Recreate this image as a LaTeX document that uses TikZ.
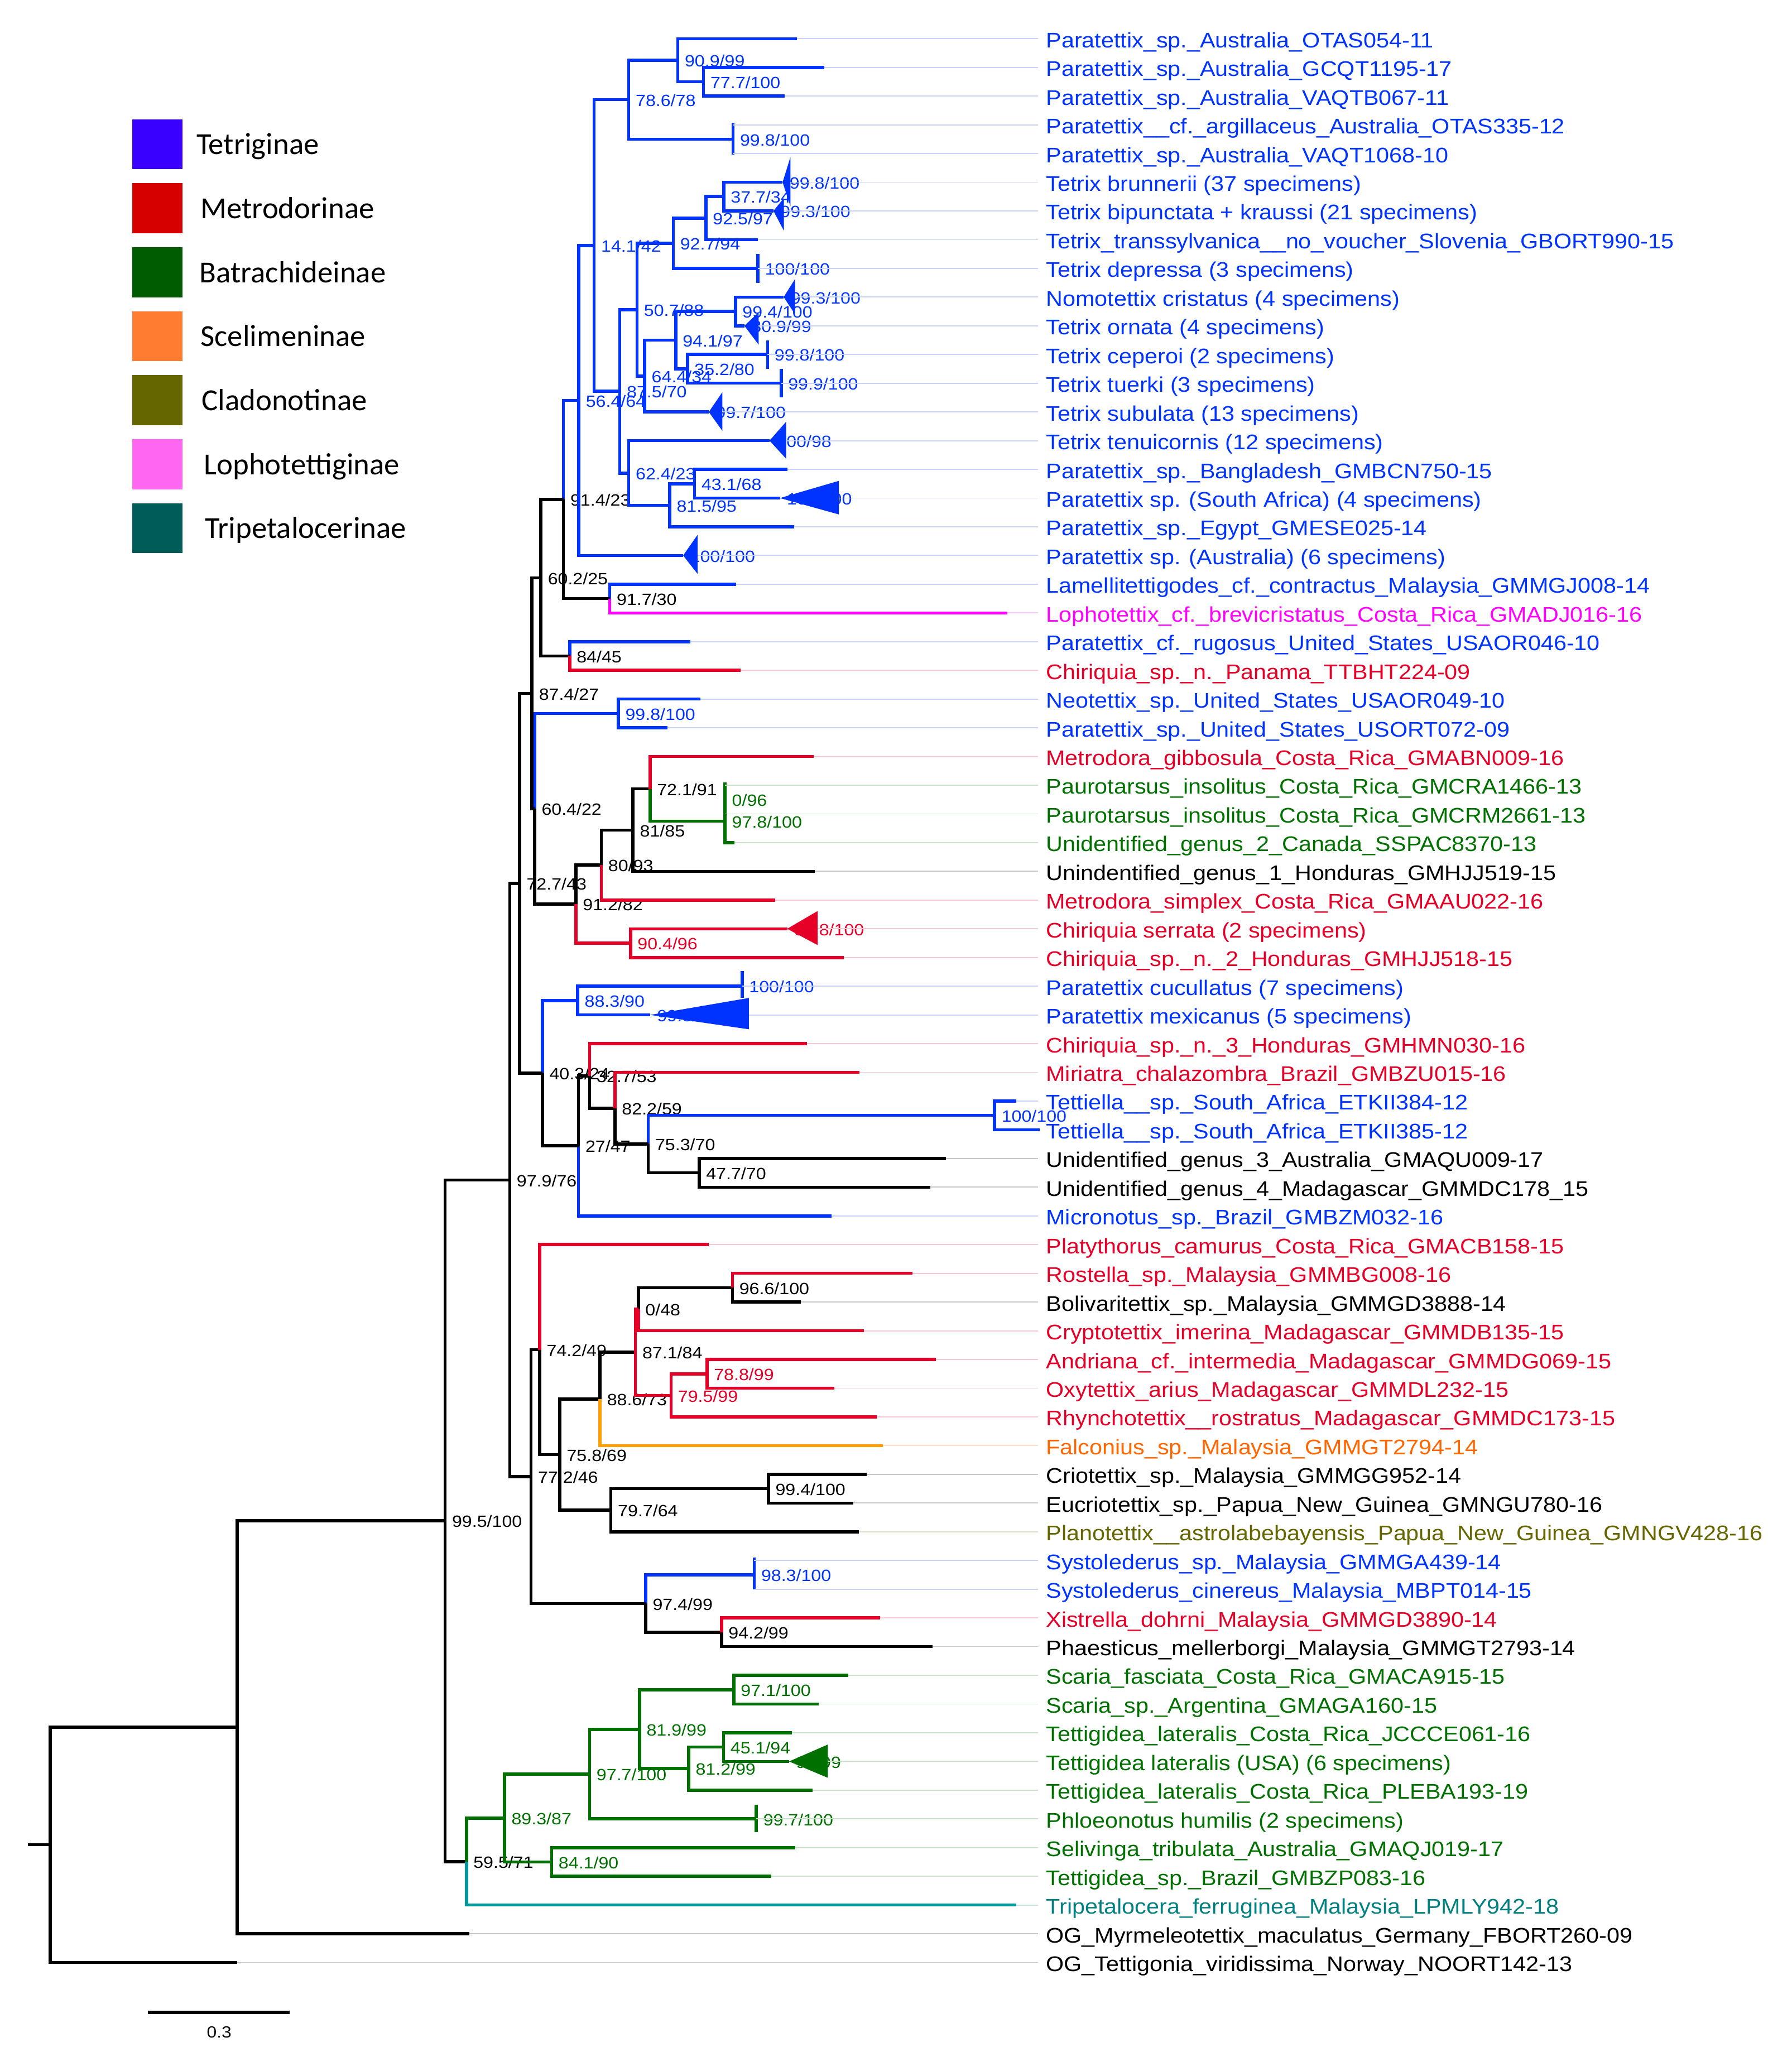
\documentclass[tikz,border=0pt]{standalone}
\usepackage{fontspec}
\setmainfont{Liberation Sans}
\newfontfamily\legendfont{Carlito}
\newfontfamily\tipfont[FakeStretch=1.09]{Liberation Sans}
\newfontfamily\supfont[FakeStretch=1.1]{Liberation Sans}
\definecolor{cblue}{RGB}{0,51,255}
\definecolor{cred}{RGB}{230,0,40}
\definecolor{cgreen}{RGB}{0,112,0}
\definecolor{cblack}{RGB}{0,0,0}
\definecolor{cmag}{RGB}{255,0,255}
\definecolor{corange}{RGB}{255,160,0}
\definecolor{clabor}{RGB}{255,102,0}
\definecolor{colive}{RGB}{102,102,0}
\definecolor{cteal}{RGB}{0,153,153}
\definecolor{clabteal}{RGB}{0,128,128}
\definecolor{leg1}{RGB}{58,0,255}
\definecolor{leg2}{RGB}{215,0,0}
\definecolor{leg3}{RGB}{0,92,0}
\definecolor{leg4}{RGB}{255,124,48}
\definecolor{leg5}{RGB}{102,102,0}
\definecolor{leg6}{RGB}{255,102,242}
\definecolor{leg7}{RGB}{0,92,88}
\begin{document}
\begin{tikzpicture}[x=0.2mm,y=-4.388mm]
  % some styles
  \tikzset{
    branch/.style={line width=1.35pt},
    guide/.style={line width=0.45pt},
    tiplabel/.style={anchor=base west,inner sep=0pt,font=\tipfont\fontsize{9.2}{11}\selectfont},
    support/.style={anchor=base west,inner sep=0pt,xshift=1mm,yshift=-1mm,
      font=\supfont\fontsize{7.1}{9}\selectfont},
    keybox/.style={minimum width=7.7mm,minimum height=7.66mm,inner sep=0pt},
    keyname/.style={anchor=base west,inner sep=0pt,font=\legendfont\fontsize{13.3}{15}\selectfont}
  }

  % frame, legend and scale bar (pixel rows)
  \begin{scope}[y=-0.2mm,yshift=1.522mm]
    \useasboundingbox (0,0) rectangle (1369,1568);
    \foreach \k/\col/\tx/\nm in {0/leg1/149.8/Tetriginae,1/leg2/153/Metrodorinae,
        2/leg3/152.2/Batrachideinae,3/leg4/153/Scelimeninae,4/leg5/153.8/Cladonotinae,
        5/leg6/155.5/Lophotettiginae,6/leg7/156.3/Tripetalocerinae} {
      \node[keybox,fill=\col] (key\k) at (120.35,110.25+48.9*\k) {};
      \node[keyname] (name\k) at (\tx,118.1+48.9*\k) {\nm};
    }
    \coordinate (sb0) at (113.1,1537.6);
    \coordinate (sb1) at (221.5,1537.6);
    \draw[branch] (sb0) -- (sb1);
    \node[anchor=base,inner sep=0pt,font=\supfont\fontsize{7}{9}\selectfont] (sblab) at (167.5,1557) {0.3};
  \end{scope}

  % tips
  \foreach \i/\x in {1/609,2/630,3/599.6,4/560.1,5/560.1,6/598,7/591,8/579.2,9/579.2,
      10/598.8,11/568.8,12/586.5,13/596.9,14/541.6,15/588,16/601.5,17/596,18/607,19/522,
      20/562.4,21/769.5,22/527.3,23/565.8,24/535.3,25/510,26/621.8,27/554,28/554,29/561.1,
      30/622.4,31/592.5,32/601.5,33/644.9,34/567.1,35/496.8,36/616.5,37/656.9,38/776.5,
      39/794.5,40/722.7,41/710.7,42/635.3,43/541.7,44/697.3,45/612,46/659.9,47/715.2,
      48/637.4,49/670.1,50/674.8,51/662.3,52/652,53/656.1,54/576.3,55/576.3,56/672.6,
      57/712.4,58/648.2,59/625.7,60/605.1,61/602.9,62/620.7,63/577.9,64/607.6,65/589.4,
      66/776.5,67/358.7,68/181.2}
    \coordinate (t\i) at (\x,\i);

  % internal nodes
  \coordinate (n01) at (537.5,2.5);
  \coordinate (n02) at (517.9,1.75);
  \coordinate (n03) at (560.1,4.5);
  \coordinate (n04) at (480.4,3.125);
  \coordinate (n05) at (553,6.5);
  \coordinate (n06) at (539.4,7.25);
  \coordinate (n07) at (514.4,8.125);
  \coordinate (n08) at (562,10.5);
  \coordinate (n09) at (525.3,12.5);
  \coordinate (n10) at (516.3,11.5);
  \coordinate (n11) at (492.6,12.75);
  \coordinate (n12) at (486.7,10.44);
  \coordinate (n13) at (530.7,16.5);
  \coordinate (n14) at (511.7,17.25);
  \coordinate (n15) at (480.4,16.13);
  \coordinate (n16) at (473.6,13.28);
  \coordinate (n17) at (454,8.2);
  \coordinate (n18) at (442.3,13.6);
  \coordinate (n19) at (465.9,20.5);
  \coordinate (n20) at (430.5,17.05);
  \coordinate (n21) at (435.3,22.5);
  \coordinate (n22) at (413.3,19.78);
  \coordinate (n23) at (472.5,24.5);
  \coordinate (n24) at (554,27.5);
  \coordinate (n25) at (554,28.25);
  \coordinate (n26) at (496.7,27.13);
  \coordinate (n27) at (483.6,28.56);
  \coordinate (n28) at (459.4,29.78);
  \coordinate (n29) at (481.8,32.5);
  \coordinate (n30) at (440,31.14);
  \coordinate (n31) at (408.5,27.82);
  \coordinate (n32) at (406.5,23.8);
  \coordinate (n33) at (441.4,34.5);
  \coordinate (n34) at (760,38.5);
  \coordinate (n35) at (534.2,40.5);
  \coordinate (n36) at (495.3,39.5);
  \coordinate (n37) at (469.9,38.25);
  \coordinate (n38) at (450.6,37.13);
  \coordinate (n39) at (442,39.56);
  \coordinate (n40) at (414.5,37.03);
  \coordinate (n41) at (397,30.42);
  \coordinate (n42) at (559.6,44.5);
  \coordinate (n43) at (487.8,45.25);
  \coordinate (n44) at (540.2,47.5);
  \coordinate (n45) at (512.7,48.25);
  \coordinate (n46) at (485.5,46.75);
  \coordinate (n47) at (458.5,48.38);
  \coordinate (n48) at (587.2,51.5);
  \coordinate (n49) at (466.8,52.25);
  \coordinate (n50) at (427.7,50.31);
  \coordinate (n51) at (412.4,46.66);
  \coordinate (n52) at (576.3,54.5);
  \coordinate (n53) at (551.3,56.5);
  \coordinate (n54) at (493.4,55.5);
  \coordinate (n55) at (405.8,51.08);
  \coordinate (n56) at (389.5,40.75);
  \coordinate (n57) at (560.7,58.5);
  \coordinate (n58) at (552.8,60.5);
  \coordinate (n59) at (526.2,61.25);
  \coordinate (n60) at (488.7,59.88);
  \coordinate (n61) at (450.5,61.44);
  \coordinate (n62) at (421.5,64.5);
  \coordinate (n63) at (385.5,62.97);
  \coordinate (n64) at (356.4,64.49);
  \coordinate (n65) at (340.1,52.62);
  \coordinate (n66) at (181.2,59.81);
  \coordinate (n67) at (38.4,63.9);
  \coordinate (r0) at (21.5,63.9);

  % support values
  \foreach \nd/\col/\val in {n02/cblue/{90.9/99},n01/cblue/{77.7/100},n04/cblue/{78.6/78},
      n03/cblue/{99.8/100},t6/cblue/{99.8/100},n05/cblue/{37.7/34},t7/cblue/{99.3/100},
      n06/cblue/{92.5/97},n07/cblue/{92.7/94},n17/cblue/{14.1/42},t9/cblue/{100/100},
      t10/cblue/{99.3/100},n12/cblue/{50.7/88},n08/cblue/{99.4/100},t11/cblue/{80.9/99},
      n10/cblue/{94.1/97},t12/cblue/{99.8/100},n11/cblue/{64.4/34},n09/cblue/{35.2/80},
      t13/cblue/{99.9/100},n16/cblue/{87.5/70},n18/cblue/{56.4/64},t14/cblue/{99.7/100},
      t15/cblue/{100/98},n15/cblue/{62.4/23},n13/cblue/{43.1/68},t17/cblue/{100/100},
      n14/cblue/{81.5/95},t19/cblue/{100/100},n23/cblue/{99.8/100},t34/cblue/{100/100},
      n33/cblue/{88.3/90},t35/cblue/{99.8/100},n34/cblue/{100/100},n52/cblue/{98.3/100},
      n20/cblack/{91.4/23},n22/cblack/{60.2/25},n19/cblack/{91.7/30},n21/cblack/{84/45},
      n32/cblack/{87.4/27},n31/cblack/{60.4/22},n26/cblack/{72.1/91},n27/cblack/{81/85},
      n28/cblack/{80/93},n41/cblack/{72.7/43},n30/cblack/{91.2/82},n40/cblack/{40.3/24},
      n38/cblack/{32.7/53},n37/cblack/{82.2/59},n39/cblack/{27/47},n36/cblack/{75.3/70},
      n35/cblack/{47.7/70},n56/cblack/{97.9/76},n42/cblack/{96.6/100},n43/cblack/{0/48},
      n51/cblack/{74.2/49},n46/cblack/{87.1/84},n47/cblack/{88.6/73},n50/cblack/{75.8/69},
      n55/cblack/{77.2/46},n48/cblack/{99.4/100},n49/cblack/{79.7/64},n65/cblack/{99.5/100},
      n54/cblack/{97.4/99},n53/cblack/{94.2/99},n64/cblack/{59.5/71},
      t32/cred/{99.8/100},n29/cred/{90.4/96},n44/cred/{78.8/99},n45/cred/{79.5/99},
      n24/cgreen/{0/96},n25/cgreen/{97.8/100},n57/cgreen/{97.1/100},n60/cgreen/{81.9/99},
      n58/cgreen/{45.1/94},t61/cgreen/{98/99},n59/cgreen/{81.2/99},n61/cgreen/{97.7/100},
      t63/cgreen/{99.7/100},n63/cgreen/{89.3/87},n62/cgreen/{84.1/90}}
    \node[support,text=\col] (s\nd) at (\nd) {\val};

  % branches
  \draw[branch,cblue]
    (n02) |- (t1) (n02) |- (n01) (n01) |- (t2) (n01) |- (t3)
    (n04) |- (n02) (n04) |- (n03)
    (n05) |- (t6) (n05) |- (t7) (n06) |- (n05) (n06) |- (t8)
    (n07) |- (n06) (n07) |- (t9)
    (n08) |- (t10) (n08) |- (t11) (n09) |- (t12) (n09) |- (t13)
    (n10) |- (n08) (n10) |- (n09) (n11) |- (n10) (n11) |- (t14)
    (n12) |- (n07) (n12) |- (n11)
    (n13) |- (t16) (n13) |- (t17) (n14) |- (n13) (n14) |- (t18)
    (n15) |- (t15) (n15) |- (n14) (n16) |- (n12) (n16) |- (n15)
    (n17) |- (n04) (n17) |- (n16) (n18) |- (n17) (n18) |- (t19)
    (n20) |- (n18) (n19) |- (t20) (n21) |- (t22)
    (n31) |- (n23) (n23) |- (t24) (n23) |- (t25)
    (n40) |- (n33) (n33) |- (t34) (n33) |- (t35)
    (n39) |- (t42) (n36) |- (n34) (n34) |- (t38) (n34) |- (t39)
    (n54) |- (n52)
    (n03) ++(0,-0.58) -- ++(0,1.12)
    (t9) ++(0,-0.5) -- ++(0,1)
    (t12) ++(0,-0.5) -- ++(0,1)
    (t13) ++(0,-0.5) -- ++(0,1)
    (t34) ++(0,-0.52) -- ++(0,0.93)
    (n52) ++(0,-0.6) -- ++(0,1.1);
  \draw[branch,cblack]
    (n20) |- (n19) (n22) |- (n20) (n22) |- (n21)
    (n32) |- (n22) (n32) |- (n31) (n31) |- (n30)
    (n30) |- (n28) (n28) |- (n27) (n27) |- (n26) (n27) |- (t30)
    (n41) |- (n32) (n41) |- (n40) (n40) |- (n39)
    (n39) |- (n38) (n38) |- (n37) (n37) |- (n36) (n36) |- (n35)
    (n35) |- (t40) (n35) |- (t41)
    (n56) |- (n41) (n56) |- (n55) (n55) |- (n51) (n55) |- (n54)
    (n51) |- (n50) (n50) |- (n47) (n50) |- (n49) (n47) |- (n46)
    (n43) |- (n42) (n42) |- (t45)
    (n49) |- (n48) (n49) |- (t53) (n48) |- (t51) (n48) |- (t52)
    (n54) |- (n53) (n53) |- (t57)
    (n65) |- (n56) (n65) |- (n64)
    (n66) |- (n65) (n66) |- (t67) (n67) |- (n66) (n67) |- (t68)
    (r0) -- (n67);
  \draw[branch,cred]
    (n21) |- (t23) (n30) |- (n29) (n28) |- (t31) (n26) |- (t26)
    (n29) |- (t32) (n29) |- (t33) (n38) |- (t36) (n37) |- (t37)
    (n51) |- (t43) (n46) |- (n43) (n46) |- (n45) (n43) |- (t46) (n42) |- (t44)
    (n45) |- (n44) (n45) |- (t49) (n44) |- (t47) (n44) |- (t48)
    (n53) |- (t56);
  \draw[branch,cmag] (n19) |- (t21);
  \draw[branch,corange] (n47) |- (t50);
  \draw[branch,cteal] (n64) |- (t66);
  \draw[branch,cgreen]
    (n26) |- (n25) (n25) |- (t29) (554,26.9) -- (554,29)
    (n64) |- (n63) (n63) |- (n61) (n63) |- (n62) (n62) |- (t64) (n62) |- (t65)
    (n61) |- (n60) (n61) |- (t63) (t63) ++(0,-0.5) -- ++(0,0.97)
    (n60) |- (n57) (n60) |- (n59) (n57) |- (t58) (n57) |- (t59)
    (n59) |- (n58) (n59) |- (t62) (n58) |- (t60) (n58) |- (t61);

  % collapsed clades
  \fill[cblue] (t6) -- ++(6,-0.88) -- ++(0,1.72) -- cycle;
  \fill[cblue] (t7) -- ++(8,-0.45) -- ++(0,1.14) -- cycle;
  \fill[cblue] (t10) -- ++(8.7,-0.63) -- ++(0,1.23) -- cycle;
  \fill[cblue] (t11) -- ++(10.9,-0.47) -- ++(0,1.13) -- cycle;
  \fill[cblue] (t14) -- ++(10.4,-0.69) -- ++(0,1.35) -- cycle;
  \fill[cblue] (t15) -- ++(12.7,-0.66) -- ++(0,1.29) -- cycle;
  \fill[cblue] (t17) -- ++(45,-0.6) -- ++(0,1.17) -- cycle;
  \fill[cblue] (t19) -- ++(11,-0.72) -- ++(0,1.36) -- cycle;
  \fill[cred] (t32) -- ++(23.3,-0.62) -- ++(0,1.19) -- cycle;
  \fill[cblue] (t35) -- ++(75.4,-0.59) -- ++(0,1.09) -- cycle;
  \fill[cgreen] (t61) -- ++(29.7,-0.59) -- ++(0,1.16) -- cycle;

  % guide lines and names
  \foreach \i/\g/\col/\s in {
      1/609/cblue/{Paratettix\_sp.\_Australia\_OTAS054-11},
      2/630/cblue/{Paratettix\_sp.\_Australia\_GCQT1195-17},
      3/599.6/cblue/{Paratettix\_sp.\_Australia\_VAQTB067-11},
      4/560.1/cblue/{Paratettix\_\_cf.\_argillaceus\_Australia\_OTAS335-12},
      5/560.1/cblue/{Paratettix\_sp.\_Australia\_VAQT1068-10},
      6/604/cblue/{Tetrix brunnerii (37 specimens)},
      7/599/cblue/{Tetrix bipunctata + kraussi (21 specimens)},
      8/579.2/cblue/{Tetrix\_transsylvanica\_\_no\_voucher\_Slovenia\_GBORT990-15},
      9/579.2/cblue/{Tetrix depressa (3 specimens)},
      10/607.5/cblue/{Nomotettix cristatus (4 specimens)},
      11/579.7/cblue/{Tetrix ornata (4 specimens)},
      12/586.5/cblue/{Tetrix ceperoi (2 specimens)},
      13/596.9/cblue/{Tetrix tuerki (3 specimens)},
      14/552/cblue/{Tetrix subulata (13 specimens)},
      15/600.7/cblue/{Tetrix tenuicornis (12 specimens)},
      16/601.5/cblue/{Paratettix\_sp.\_Bangladesh\_GMBCN750-15},
      17/641/cblue/{Paratettix sp. (South Africa) (4 specimens)},
      18/607/cblue/{Paratettix\_sp.\_Egypt\_GMESE025-14},
      19/533/cblue/{Paratettix sp. (Australia) (6 specimens)},
      20/562.4/cblue/{Lamellitettigodes\_cf.\_contractus\_Malaysia\_GMMGJ008-14},
      21/769.5/cmag/{Lophotettix\_cf.\_brevicristatus\_Costa\_Rica\_GMADJ016-16},
      22/527.3/cblue/{Paratettix\_cf.\_rugosus\_United\_States\_USAOR046-10},
      23/565.8/cred/{Chiriquia\_sp.\_n.\_Panama\_TTBHT224-09},
      24/535.3/cblue/{Neotettix\_sp.\_United\_States\_USAOR049-10},
      25/510/cblue/{Paratettix\_sp.\_United\_States\_USORT072-09},
      26/621.8/cred/{Metrodora\_gibbosula\_Costa\_Rica\_GMABN009-16},
      27/554/cgreen/{Paurotarsus\_insolitus\_Costa\_Rica\_GMCRA1466-13},
      28/554/cgreen/{Paurotarsus\_insolitus\_Costa\_Rica\_GMCRM2661-13},
      29/561.1/cgreen/{Unidentified\_genus\_2\_Canada\_SSPAC8370-13},
      30/622.4/cblack/{Unindentified\_genus\_1\_Honduras\_GMHJJ519-15},
      31/592.5/cred/{Metrodora\_simplex\_Costa\_Rica\_GMAAU022-16},
      32/624.8/cred/{Chiriquia serrata (2 specimens)},
      33/644.9/cred/{Chiriquia\_sp.\_n.\_2\_Honduras\_GMHJJ518-15},
      34/567.1/cblue/{Paratettix cucullatus (7 specimens)},
      35/572.2/cblue/{Paratettix mexicanus (5 specimens)},
      36/616.5/cred/{Chiriquia\_sp.\_n.\_3\_Honduras\_GMHMN030-16},
      37/656.9/cred/{Miriatra\_chalazombra\_Brazil\_GMBZU015-16},
      38/776.5/cblue/{Tettiella\_\_sp.\_South\_Africa\_ETKII384-12},
      39/793/cblue/{Tettiella\_\_sp.\_South\_Africa\_ETKII385-12},
      40/722.7/cblack/{Unidentified\_genus\_3\_Australia\_GMAQU009-17},
      41/710.7/cblack/{Unidentified\_genus\_4\_Madagascar\_GMMDC178\_15},
      42/635.3/cblue/{Micronotus\_sp.\_Brazil\_GMBZM032-16},
      43/541.7/cred/{Platythorus\_camurus\_Costa\_Rica\_GMACB158-15},
      44/697.3/cred/{Rostella\_sp.\_Malaysia\_GMMBG008-16},
      45/612/cblack/{Bolivaritettix\_sp.\_Malaysia\_GMMGD3888-14},
      46/659.9/cred/{Cryptotettix\_imerina\_Madagascar\_GMMDB135-15},
      47/715.2/cred/{Andriana\_cf.\_intermedia\_Madagascar\_GMMDG069-15},
      48/637.4/cred/{Oxytettix\_arius\_Madagascar\_GMMDL232-15},
      49/670.1/cred/{Rhynchotettix\_\_rostratus\_Madagascar\_GMMDC173-15},
      50/674.8/clabor/{Falconius\_sp.\_Malaysia\_GMMGT2794-14},
      51/662.3/cblack/{Criotettix\_sp.\_Malaysia\_GMMGG952-14},
      52/652/cblack/{Eucriotettix\_sp.\_Papua\_New\_Guinea\_GMNGU780-16},
      53/656.1/colive/{Planotettix\_\_astrolabebayensis\_Papua\_New\_Guinea\_GMNGV428-16},
      54/576.3/cblue/{Systolederus\_sp.\_Malaysia\_GMMGA439-14},
      55/576.3/cblue/{Systolederus\_cinereus\_Malaysia\_MBPT014-15},
      56/672.6/cred/{Xistrella\_dohrni\_Malaysia\_GMMGD3890-14},
      57/712.4/cblack/{Phaesticus\_mellerborgi\_Malaysia\_GMMGT2793-14},
      58/648.2/cgreen/{Scaria\_fasciata\_Costa\_Rica\_GMACA915-15},
      59/625.7/cgreen/{Scaria\_sp.\_Argentina\_GMAGA160-15},
      60/605.1/cgreen/{Tettigidea\_lateralis\_Costa\_Rica\_JCCCE061-16},
      61/632.6/cgreen/{Tettigidea lateralis (USA) (6 specimens)},
      62/620.7/cgreen/{Tettigidea\_lateralis\_Costa\_Rica\_PLEBA193-19},
      63/577.9/cgreen/{Phloeonotus humilis (2 specimens)},
      64/607.6/cgreen/{Selivinga\_tribulata\_Australia\_GMAQJ019-17},
      65/589.4/cgreen/{Tettigidea\_sp.\_Brazil\_GMBZP083-16},
      66/776.5/clabteal/{Tripetalocera\_ferruginea\_Malaysia\_LPMLY942-18},
      67/358.7/cblack/{OG\_Myrmeleotettix\_maculatus\_Germany\_FBORT260-09},
      68/181.2/cblack/{OG\_Tettigonia\_viridissima\_Norway\_NOORT142-13}} {
    \draw[guide,\col!22] (\g,\i) -- (793,\i);
    \node[tiplabel,text=\col] (lab\i) at (799,\i+0.31) {\s};
  }
\end{tikzpicture}
\end{document}
